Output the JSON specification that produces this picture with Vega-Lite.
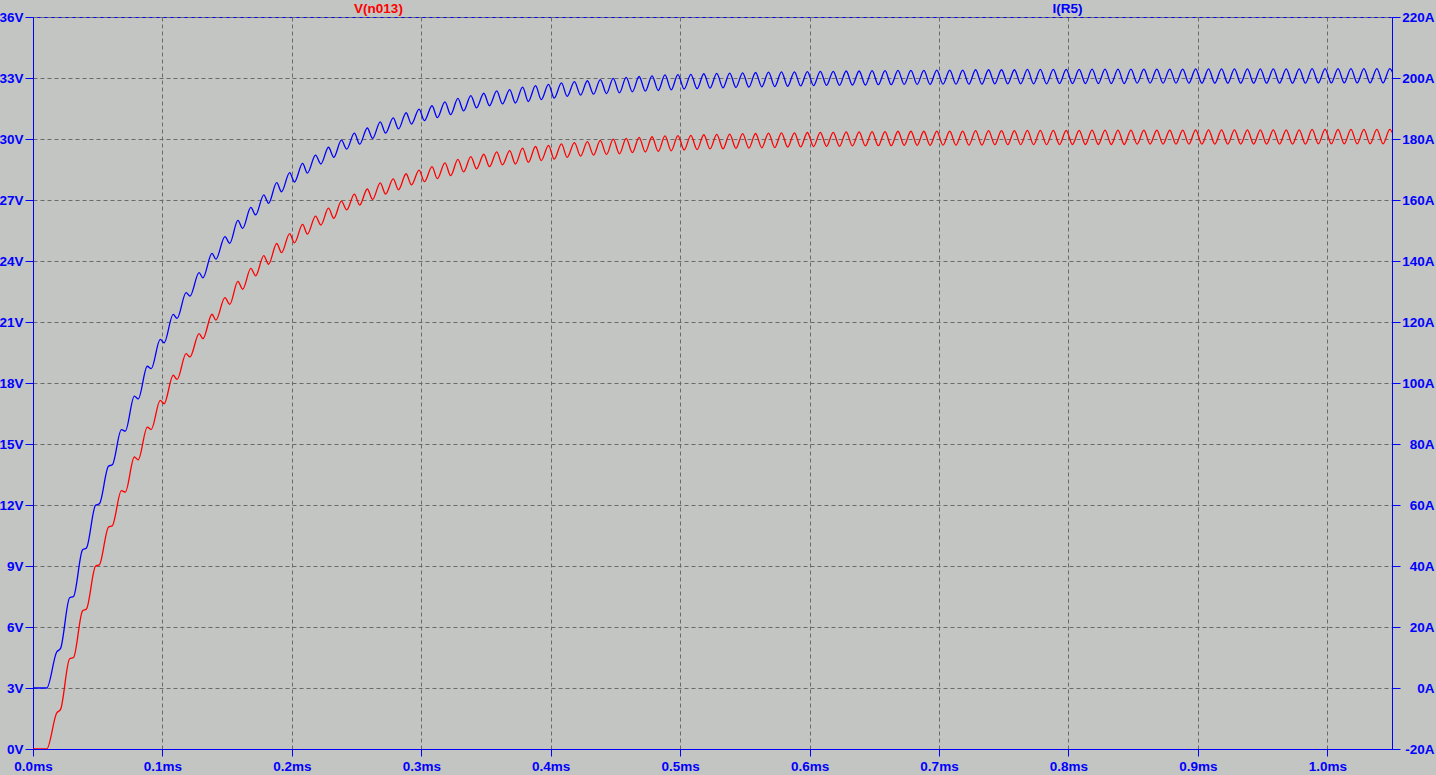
{
"$schema": "https://vega.github.io/schema/vega-lite/v6.json",
"width": 1359, "height": 732,
"autosize": {"type": "none"},
"padding": {"left": 33, "top": 17, "right": 44, "bottom": 26},
"background": "#c3c5c2",
"data": {"values": [
{"t":0,"i":0,"v":0},{"t":0.0106,"i":0,"v":0},
{"t":0.0183,"i":11.8,"v":1.77},{"t":0.0213,"i":13.0,"v":1.95},
{"t":0.0283,"i":29.6,"v":4.44},{"t":0.0313,"i":30.0,"v":4.5},
{"t":0.0383,"i":45.3,"v":6.8},{"t":0.0413,"i":45.9,"v":6.89},
{"t":0.0483,"i":59.9,"v":8.99},{"t":0.0513,"i":60.4,"v":9.06},
{"t":0.0583,"i":72.7,"v":10.91},{"t":0.0613,"i":73.2,"v":10.98},
{"t":0.0683,"i":84.7,"v":12.71},{"t":0.0713,"i":84.2,"v":12.63},
{"t":0.0783,"i":95.7,"v":14.36},{"t":0.0813,"i":94.8,"v":14.22},
{"t":0.0883,"i":105.5,"v":15.83},{"t":0.0913,"i":104.7,"v":15.71},
{"t":0.0983,"i":114.3,"v":17.15},{"t":0.1013,"i":113.2,"v":16.98},
{"t":0.1083,"i":122.5,"v":18.38},{"t":0.1113,"i":121.2,"v":18.18},
{"t":0.1183,"i":129.6,"v":19.44},{"t":0.1213,"i":128.5,"v":19.28},
{"t":0.1283,"i":136.2,"v":20.43},{"t":0.1313,"i":134.5,"v":20.18},
{"t":0.1383,"i":142.5,"v":21.38},{"t":0.1413,"i":140.6,"v":21.09},
{"t":0.1483,"i":148.0,"v":22.2},{"t":0.152,"i":145.8,"v":21.87},
{"t":0.1583,"i":153.3,"v":23.0},{"t":0.162,"i":150.7,"v":22.61},
{"t":0.1683,"i":157.6,"v":23.64},{"t":0.172,"i":155.1,"v":23.27},
{"t":0.1783,"i":161.7,"v":24.26},{"t":0.182,"i":158.9,"v":23.84},
{"t":0.1883,"i":165.7,"v":24.86},{"t":0.192,"i":162.7,"v":24.41},
{"t":0.1983,"i":169.0,"v":25.35},{"t":0.202,"i":165.9,"v":24.89},
{"t":0.2083,"i":172.0,"v":25.8},{"t":0.212,"i":168.8,"v":25.32},
{"t":0.2183,"i":174.7,"v":26.21},{"t":0.2224,"i":171.8,"v":25.77},
{"t":0.2283,"i":177.3,"v":26.6},{"t":0.2324,"i":174.0,"v":26.1},
{"t":0.2383,"i":179.6,"v":26.94},{"t":0.2424,"i":176.7,"v":26.51},
{"t":0.2483,"i":181.9,"v":27.29},{"t":0.2524,"i":178.3,"v":26.75},
{"t":0.2583,"i":183.6,"v":27.54},{"t":0.2624,"i":180.2,"v":27.03},
{"t":0.2683,"i":185.6,"v":27.84},{"t":0.2724,"i":181.9,"v":27.29},
{"t":0.2783,"i":186.9,"v":28.04},{"t":0.2824,"i":183.3,"v":27.5},
{"t":0.2883,"i":188.6,"v":28.29},{"t":0.2924,"i":184.9,"v":27.74},
{"t":0.2983,"i":189.8,"v":28.47},{"t":0.3024,"i":186.0,"v":27.9},
{"t":0.3083,"i":190.9,"v":28.64},{"t":0.3124,"i":187.0,"v":28.05},
{"t":0.3183,"i":192.2,"v":28.83},{"t":0.3227,"i":188.0,"v":28.2},
{"t":0.3283,"i":193.3,"v":29.0},{"t":0.3327,"i":189.2,"v":28.38},
{"t":0.3383,"i":194.2,"v":29.13},{"t":0.3427,"i":190.2,"v":28.53},
{"t":0.3483,"i":195.0,"v":29.25},{"t":0.3527,"i":190.9,"v":28.64},
{"t":0.3583,"i":195.8,"v":29.37},{"t":0.3627,"i":191.5,"v":28.73},
{"t":0.3683,"i":196.2,"v":29.43},{"t":0.3727,"i":191.8,"v":28.77},
{"t":0.3783,"i":197.0,"v":29.55},{"t":0.3827,"i":192.3,"v":28.85},
{"t":0.3883,"i":197.5,"v":29.63},{"t":0.3927,"i":192.9,"v":28.94},
{"t":0.3983,"i":197.9,"v":29.69},{"t":0.4027,"i":193.4,"v":29.01},
{"t":0.4083,"i":198.4,"v":29.76},{"t":0.4127,"i":194.0,"v":29.1},
{"t":0.4183,"i":198.8,"v":29.82},{"t":0.4231,"i":194.4,"v":29.16},
{"t":0.4283,"i":199.1,"v":29.87},{"t":0.4331,"i":194.7,"v":29.21},
{"t":0.4383,"i":199.5,"v":29.93},{"t":0.4431,"i":194.9,"v":29.24},
{"t":0.4483,"i":199.9,"v":29.99},{"t":0.4531,"i":195.1,"v":29.27},
{"t":0.4583,"i":200.2,"v":30.03},{"t":0.4631,"i":195.5,"v":29.33},
{"t":0.4683,"i":200.5,"v":30.08},{"t":0.4731,"i":195.7,"v":29.36},
{"t":0.4783,"i":200.7,"v":30.11},{"t":0.4831,"i":195.9,"v":29.39},
{"t":0.4883,"i":201.0,"v":30.15},{"t":0.4931,"i":196.1,"v":29.42},
{"t":0.4983,"i":201.1,"v":30.17},{"t":0.5031,"i":196.4,"v":29.46},
{"t":0.5083,"i":201.2,"v":30.18},{"t":0.5131,"i":196.5,"v":29.48},
{"t":0.5183,"i":201.4,"v":30.21},{"t":0.5231,"i":196.7,"v":29.51},
{"t":0.5283,"i":201.5,"v":30.23},{"t":0.5331,"i":196.8,"v":29.52},
{"t":0.5383,"i":201.6,"v":30.24},{"t":0.5431,"i":196.9,"v":29.54},
{"t":0.5483,"i":201.7,"v":30.26},{"t":0.5531,"i":197.0,"v":29.55},
{"t":0.5583,"i":201.8,"v":30.27},{"t":0.5631,"i":197.1,"v":29.57},
{"t":0.5683,"i":201.9,"v":30.29},{"t":0.5731,"i":197.2,"v":29.58},
{"t":0.5783,"i":202.0,"v":30.3},{"t":0.5831,"i":197.3,"v":29.6},
{"t":0.5883,"i":202.0,"v":30.3},{"t":0.5931,"i":197.4,"v":29.61},
{"t":0.5983,"i":202.1,"v":30.32},{"t":0.6031,"i":197.5,"v":29.63},
{"t":0.6083,"i":202.2,"v":30.33},{"t":0.6131,"i":197.6,"v":29.64},
{"t":0.6183,"i":202.2,"v":30.33},{"t":0.6231,"i":197.6,"v":29.64},
{"t":0.6283,"i":202.3,"v":30.35},{"t":0.6331,"i":197.7,"v":29.66},
{"t":0.6383,"i":202.3,"v":30.35},{"t":0.6431,"i":197.7,"v":29.66},
{"t":0.6483,"i":202.4,"v":30.36},{"t":0.6531,"i":197.8,"v":29.67},
{"t":0.6583,"i":202.4,"v":30.36},{"t":0.6631,"i":197.8,"v":29.67},
{"t":0.6683,"i":202.5,"v":30.38},{"t":0.6731,"i":197.9,"v":29.69},
{"t":0.6783,"i":202.5,"v":30.38},{"t":0.6831,"i":197.9,"v":29.69},
{"t":0.6883,"i":202.5,"v":30.38},{"t":0.6931,"i":197.9,"v":29.69},
{"t":0.6983,"i":202.6,"v":30.39},{"t":0.7031,"i":198.0,"v":29.7},
{"t":0.7083,"i":202.6,"v":30.39},{"t":0.7131,"i":198.0,"v":29.7},
{"t":0.7183,"i":202.6,"v":30.39},{"t":0.7231,"i":198.0,"v":29.7},
{"t":0.7283,"i":202.7,"v":30.41},{"t":0.7331,"i":198.0,"v":29.7},
{"t":0.7383,"i":202.7,"v":30.41},{"t":0.7431,"i":198.1,"v":29.72},
{"t":0.7483,"i":202.7,"v":30.41},{"t":0.7531,"i":198.1,"v":29.72},
{"t":0.7583,"i":202.7,"v":30.41},{"t":0.7631,"i":198.1,"v":29.72},
{"t":0.7683,"i":202.8,"v":30.42},{"t":0.7731,"i":198.1,"v":29.72},
{"t":0.7783,"i":202.8,"v":30.42},{"t":0.7831,"i":198.1,"v":29.72},
{"t":0.7883,"i":202.8,"v":30.42},{"t":0.7931,"i":198.2,"v":29.73},
{"t":0.7983,"i":202.8,"v":30.42},{"t":0.8031,"i":198.2,"v":29.73},
{"t":0.8083,"i":202.8,"v":30.42},{"t":0.8131,"i":198.2,"v":29.73},
{"t":0.8183,"i":202.9,"v":30.44},{"t":0.8231,"i":198.2,"v":29.73},
{"t":0.8283,"i":202.9,"v":30.44},{"t":0.8331,"i":198.2,"v":29.73},
{"t":0.8383,"i":202.9,"v":30.44},{"t":0.8431,"i":198.2,"v":29.73},
{"t":0.8483,"i":202.9,"v":30.44},{"t":0.8531,"i":198.3,"v":29.75},
{"t":0.8583,"i":202.9,"v":30.44},{"t":0.8631,"i":198.3,"v":29.75},
{"t":0.8683,"i":202.9,"v":30.44},{"t":0.8731,"i":198.3,"v":29.75},
{"t":0.8783,"i":202.9,"v":30.44},{"t":0.8831,"i":198.3,"v":29.75},
{"t":0.8883,"i":202.9,"v":30.44},{"t":0.8931,"i":198.3,"v":29.75},
{"t":0.8983,"i":203.0,"v":30.45},{"t":0.9031,"i":198.3,"v":29.75},
{"t":0.9083,"i":203.0,"v":30.45},{"t":0.9131,"i":198.3,"v":29.75},
{"t":0.9183,"i":203.0,"v":30.45},{"t":0.9231,"i":198.3,"v":29.75},
{"t":0.9283,"i":203.0,"v":30.45},{"t":0.9331,"i":198.3,"v":29.75},
{"t":0.9383,"i":203.0,"v":30.45},{"t":0.9431,"i":198.3,"v":29.75},
{"t":0.9483,"i":203.0,"v":30.45},{"t":0.9531,"i":198.3,"v":29.75},
{"t":0.9583,"i":203.0,"v":30.45},{"t":0.9631,"i":198.3,"v":29.75},
{"t":0.9683,"i":203.0,"v":30.45},{"t":0.9731,"i":198.3,"v":29.75},
{"t":0.9783,"i":203.0,"v":30.45},{"t":0.9831,"i":198.3,"v":29.75},
{"t":0.9883,"i":203.1,"v":30.47},{"t":0.9931,"i":198.4,"v":29.76},
{"t":0.9983,"i":203.1,"v":30.47},{"t":1.0031,"i":198.4,"v":29.76},
{"t":1.0083,"i":203.1,"v":30.47},{"t":1.0131,"i":198.4,"v":29.76},
{"t":1.0183,"i":203.1,"v":30.47},{"t":1.0231,"i":198.4,"v":29.76},
{"t":1.0283,"i":203.1,"v":30.47},{"t":1.0331,"i":198.4,"v":29.76},
{"t":1.0383,"i":203.1,"v":30.47},{"t":1.0431,"i":198.4,"v":29.76},
{"t":1.0483,"i":203.1,"v":30.47},{"t":1.0531,"i":198.4,"v":29.76}
]},
"layer": [
{
"mark": {"type": "line", "color": "#ff0000", "strokeWidth": 1.3, "interpolate": "monotone", "clip": true},
"encoding": {
"x": {"field": "t", "type": "quantitative",
"scale": {"domain": [0, 1.05], "nice": false, "zero": false},
"axis": {"orient": "bottom", "values": [0,0.1,0.2,0.3,0.4,0.5,0.6,0.7,0.8,0.9,1.0],
"labelExpr": "format(datum.value, '.1f') + 'ms'", "title": null,
"grid": true, "tickSize": 7, "labelPadding": 3, "labelFlush": false, "labelOverlap": false}},
"y": {"field": "v", "type": "quantitative",
"scale": {"domain": [0, 36], "nice": false, "zero": false},
"axis": {"orient": "left", "values": [0,3,6,9,12,15,18,21,24,27,30,33,36],
"labelExpr": "datum.value + 'V'", "grid": true, "tickSize": 8, "labelPadding": 2,
"labelFlush": false, "labelOverlap": false,
"title": "V(n013)", "titleAngle": 0, "titleX": 345, "titleY": -9,
"titleAlign": "center", "titleBaseline": "middle", "titleColor": "#ff0000",
"titleFont": "Liberation Sans", "titleFontWeight": "bold", "titleFontSize": 13.5}}
}
},
{
"mark": {"type": "line", "color": "#0000ff", "strokeWidth": 1.3, "interpolate": "monotone", "clip": true},
"encoding": {
"x": {"field": "t", "type": "quantitative"},
"y": {"field": "i", "type": "quantitative",
"scale": {"domain": [-20, 220], "nice": false, "zero": false},
"axis": {"orient": "right", "values": [-20,0,20,40,60,80,100,120,140,160,180,200,220],
"labelExpr": "datum.value + 'A'", "grid": false, "tickSize": 8, "labelPadding": 34,
"labelAlign": "right", "labelFlush": false, "labelOverlap": false,
"title": "I(R5)", "titleAngle": 0, "titleX": -325, "titleY": -9,
"titleAlign": "center", "titleBaseline": "middle", "titleColor": "#0000ff",
"titleFont": "Liberation Sans", "titleFontWeight": "bold", "titleFontSize": 13.5}}
}
}
],
"resolve": {"scale": {"y": "independent"}},
"config": {
"view": {"stroke": "#0000ff", "strokeWidth": 1},
"axis": {"labelFont": "Liberation Sans", "labelFontWeight": "bold", "labelFontSize": 13.5,
"labelColor": "#0000ff", "domainColor": "#0000ff", "tickColor": "#0000ff",
"gridColor": "#6a6a6a", "gridDash": [4, 3], "gridOpacity": 1, "gridWidth": 1,
"domainWidth": 1, "tickWidth": 1}
}
}
